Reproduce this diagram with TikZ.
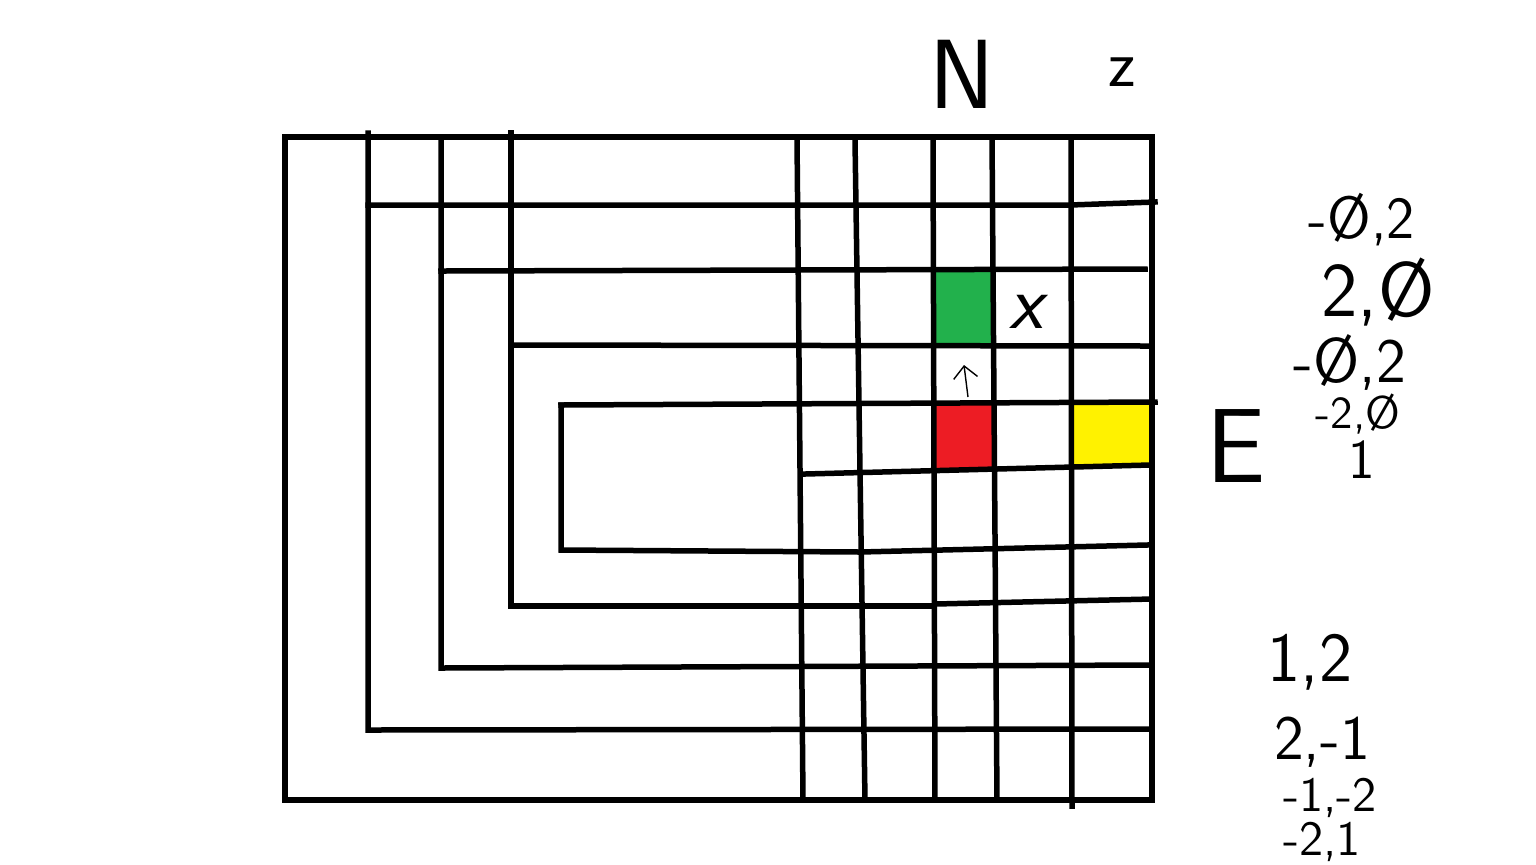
\documentclass[tikz,border=0pt]{standalone}
\usepackage{fontspec}
\usepackage{tikz}
\usetikzlibrary{arrows.meta}

\definecolor{paintgreen}{HTML}{22B14C}
\definecolor{paintred}{HTML}{ED1C24}
\definecolor{paintyellow}{HTML}{FFF200}

\begin{document}
\begin{tikzpicture}[x=0.1mm, y=-0.1mm, wall/.style={line width=0.55mm, line cap=rect}, scrawl/.style={font=\sffamily, inner sep=0pt}]
  \useasboundingbox[fill=white] (0,0) rectangle (1536,864);

  % coloured cells
  \fill[paintgreen]  (933,271) rectangle (993,345);
  \fill[paintred]    (933,405) rectangle (993,468);
  \fill[paintyellow] (1071,405) rectangle (1152,465);

  % outer frame
  \draw[wall] (285,137) rectangle (1152,800);

  % nested rings
  \draw[wall] (368,133) -- (368,730) -- (1147,729);
  \draw[wall] (441,137) -- (441,668) -- (1150,665);
  \draw[wall] (511,133) -- (511,606) -- (930,606);
  \draw[wall] (935,604) -- (1152,599);
  \draw[wall] (561,405) -- (561,550) -- (860,552) -- (1147,545);
  \draw[wall] (368,205) -- (1070,205) -- (1155,202);
  \draw[wall] (441,271) -- (1145,269);
  \draw[wall] (511,345) -- (1150,346);
  \draw[wall] (561,405) -- (1155,402);
  \draw[wall] (805,474) -- (1150,465);

  % columns
  \draw[wall] (797,137) -- (803,800);
  \draw[wall] (855,140) -- (865,800);
  \draw[wall] (933,140) -- (935,800);
  \draw[wall] (992,137) -- (997,800);
  \draw[wall] (1071,137) -- (1072,806);

  % marks in the cells
  \node[scrawl, font=\sffamily\itshape\fontsize{22}{22}\selectfont] (cross) at (1026,312) {x};
  \draw[-{Straight Barb[length=1.2mm]}, thin] (968,397) -- (964,365);

  % headings
  \node[scrawl, font=\sffamily\fontsize{28}{28}\selectfont] (north) at (962,74) {N};
  \node[scrawl, font=\sffamily\fontsize{19}{19}\selectfont] (zed) at (1122,72) {z};
  \node[scrawl, font=\sffamily\fontsize{30}{30}\selectfont] (east) at (1236,446) {E};

  % vectors
  \node[scrawl, font=\sffamily\fontsize{17}{17}\selectfont] (va) at (1362,220) {-Ø,2};
  \node[scrawl, font=\sffamily\fontsize{22}{22}\selectfont] (vb) at (1378,292) {2,Ø};
  \node[scrawl, font=\sffamily\fontsize{18}{18}\selectfont] (vc) at (1350,362) {-Ø,2};
  \node[scrawl, font=\sffamily\fontsize{13}{13}\selectfont] (vd) at (1358,414) {-2,Ø};
  \node[scrawl, font=\sffamily\fontsize{16}{16}\selectfont] (ve) at (1362,460) {1};

  \node[scrawl, font=\sffamily\fontsize{20}{20}\selectfont] (wa) at (1310,662) {1,2};
  \node[scrawl, font=\sffamily\fontsize{18}{18}\selectfont] (wb) at (1322,742) {2,-1};
  \node[scrawl, font=\sffamily\fontsize{14}{14}\selectfont] (wc) at (1330,798) {-1,-2};
  \node[scrawl, font=\sffamily\fontsize{14}{14}\selectfont] (wd) at (1322,842) {-2,1};
\end{tikzpicture}
\end{document}
